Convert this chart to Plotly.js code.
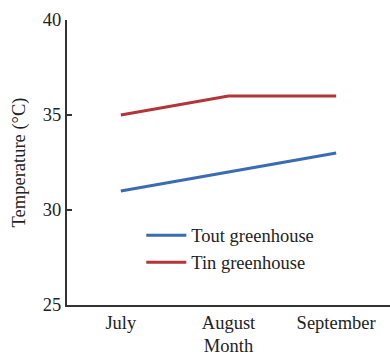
<!DOCTYPE html>
<html><head><meta charset="utf-8">
<script src="https://cdn.plot.ly/plotly-3.0.1.min.js"></script>
<style>html,body{margin:0;padding:0;background:#fff}</style>
</head><body>
<div id="chart" style="width:390px;height:356px"></div>
<script>
const months = ["July", "August", "September"];
const toutGreenhouse = [31, 32, 33];
const tinGreenhouse = [35, 36, 36];
const yTicks = [25, 30, 35, 40];

const font = "Liberation Serif, Times New Roman, serif";
const fs = 18.5;
const data = [
  {x: months, y: toutGreenhouse, type: "scatter", mode: "lines", name: "Tout greenhouse",
   line: {color: "#3a6cb4", width: 3}},
  {x: months, y: tinGreenhouse, type: "scatter", mode: "lines", name: "Tin greenhouse",
   line: {color: "#b5343a", width: 3}}
];
const layout = {
  width: 390, height: 356,
  margin: {l: 67, r: 0, t: 20, b: 51},
  paper_bgcolor: "#fff", plot_bgcolor: "#fff",
  font: {family: font, size: fs, color: "#222"},
  showlegend: true,
  legend: {x: 0.23, y: 0.31, xanchor: "left", yanchor: "top", bgcolor: "rgba(0,0,0,0)",
    font: {family: font, size: fs, color: "#222"}, tracegroupgap: 0, itemwidth: 40},
  xaxis: {type: "category", range: [-0.5, 2.5], showgrid: false, zeroline: false,
    showline: true, linecolor: "#333", linewidth: 2, ticks: "",
    tickfont: {family: font, size: fs, color: "#222"},
    title: {text: "Month", font: {family: font, size: fs, color: "#222"}, standoff: 14}},
  yaxis: {range: [25, 40], tickvals: yTicks, showgrid: false, zeroline: false,
    showline: true, linecolor: "#333", linewidth: 2, ticks: "inside", ticklen: 5,
    tickcolor: "#333", tickwidth: 2,
    tickfont: {family: font, size: fs, color: "#222"},
    title: {text: "Temperature (°C)", font: {family: font, size: fs, color: "#222"}, standoff: 12}}
};
Plotly.newPlot("chart", data, layout, {displayModeBar: false, staticPlot: true});
</script>
</body></html>
